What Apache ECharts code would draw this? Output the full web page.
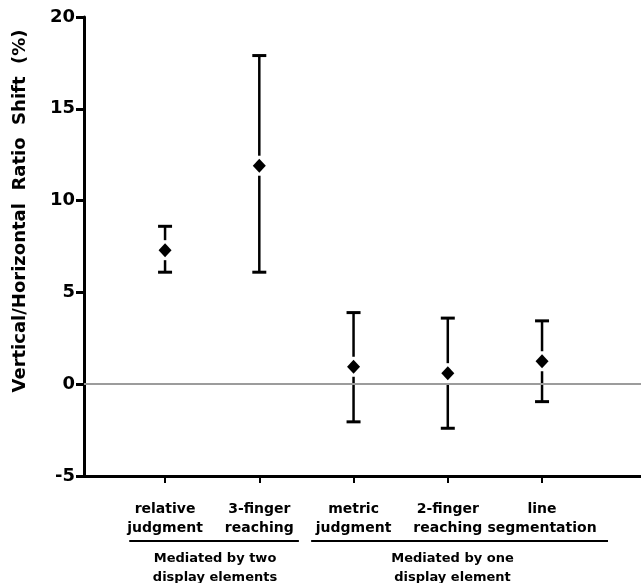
<!DOCTYPE html>
<html>
<head>
<meta charset="utf-8">
<script src="https://cdn.jsdelivr.net/npm/echarts@6/dist/echarts.min.js"></script>
<style>
html,body{margin:0;padding:0;background:#fff;}
#chart{width:641px;height:583px;}
</style>
</head>
<body>
<div id="chart"></div>
<script>
// ---- data ----
const categories = ['relative\njudgment', '3-finger\nreaching', 'metric\njudgment', '2-finger\nreaching', 'line\nsegmentation'];
const categoryPos = [1, 2, 3, 4, 5];
const means = [7.3, 11.9, 0.95, 0.6, 1.25];
const upper = [8.6, 17.9, 3.9, 3.6, 3.45];
const lower = [6.1, 6.1, -2.05, -2.4, -0.95];
const yMin = -5, yMax = 20, yInterval = 5;
const groupLabels = ['Mediated by two\ndisplay elements', 'Mediated by one\ndisplay element'];
const groupStart = [0.62, 2.55];
const groupEnd = [2.42, 5.70];
const groupCenter = [1.53, 4.05];
const yTitle = 'Vertical/Horizontal  Ratio  Shift  (%)';

const FONT = 'DejaVu Sans';
const chart = echarts.init(document.getElementById('chart'), null, {renderer: 'canvas'});

const errData = categoryPos.map((x, i) => [x, lower[i], upper[i], means[i]]);
const meanData = categoryPos.map((x, i) => [x, means[i]]);

const option = {
  animation: false,
  backgroundColor: '#fff',
  grid: {left: 84, right: 0, top: 17, bottom: 107, containLabel: false},
  xAxis: {
    type: 'value', min: 0.14, max: 6.05,
    splitLine: {show: false},
    axisLine: {show: true, onZero: false, lineStyle: {color: '#000', width: 3}},
    axisTick: {show: true, inside: false, length: 7, lineStyle: {color: '#000', width: 2}, customValues: categoryPos},
    axisLabel: {
      show: true, customValues: categoryPos, margin: 24,
      formatter: v => categories[Math.round(v) - 1] || '',
      fontFamily: FONT, fontWeight: 'bold', fontSize: 14, lineHeight: 19, color: '#000'
    }
  },
  yAxis: {
    type: 'value', min: yMin, max: yMax, interval: yInterval,
    splitLine: {show: false},
    axisLine: {show: true, onZero: false, lineStyle: {color: '#000', width: 3}},
    axisTick: {show: true, inside: false, length: 8, lineStyle: {color: '#000', width: 3}},
    axisLabel: {margin: 9, fontFamily: FONT, fontWeight: 'bold', fontSize: 18, color: '#000'}
  },
  series: [
    {
      type: 'custom',
      data: errData,
      z: 3,
      renderItem: function (params, api) {
        const x = api.value(0);
        const lo = api.coord([x, api.value(1)]);
        const hi = api.coord([x, api.value(2)]);
        const m = api.coord([x, api.value(3)]);
        const gap = 10, cap = 7;
        const st = {stroke: '#000', lineWidth: 2.5};
        const cst = {stroke: '#000', lineWidth: 3};
        return {
          type: 'group',
          children: [
            {type: 'line', shape: {x1: hi[0], y1: hi[1], x2: m[0], y2: m[1] - gap}, style: st},
            {type: 'line', shape: {x1: m[0], y1: m[1] + gap, x2: lo[0], y2: lo[1]}, style: st},
            {type: 'line', shape: {x1: hi[0] - cap, y1: hi[1], x2: hi[0] + cap, y2: hi[1]}, style: cst},
            {type: 'line', shape: {x1: lo[0] - cap, y1: lo[1], x2: lo[0] + cap, y2: lo[1]}, style: cst}
          ]
        };
      },
      markLine: {
        silent: true, symbol: 'none', label: {show: false},
        lineStyle: {color: '#9c9c9c', width: 2, type: 'solid'},
        data: [{yAxis: 0}]
      }
    },
    {
      type: 'scatter',
      data: meanData,
      symbol: 'diamond',
      symbolSize: [13, 14],
      itemStyle: {color: '#000', opacity: 1},
      z: 4
    }
  ],
  graphic: []
};
chart.setOption(option);

// group brackets and labels below the category labels, placed through the axis scale
const gfx = [];
const lineY = 541;
for (let g = 0; g < groupLabels.length; g++) {
  const x1 = chart.convertToPixel({xAxisIndex: 0}, groupStart[g]);
  const x2 = chart.convertToPixel({xAxisIndex: 0}, groupEnd[g]);
  const xc = chart.convertToPixel({xAxisIndex: 0}, groupCenter[g]);
  gfx.push({type: 'line', shape: {x1: x1, y1: lineY, x2: x2, y2: lineY}, style: {stroke: '#000', lineWidth: 2}});
  gfx.push({type: 'text', x: xc, y: lineY + 8, style: {
    text: groupLabels[g], fontFamily: FONT, fontWeight: 'bold', fontSize: 13, lineHeight: 19,
    fill: '#000', align: 'center', verticalAlign: 'top'}});
}
gfx.push({type: 'text', x: 20, y: 211, rotation: Math.PI / 2, style: {
  text: yTitle, fontFamily: FONT, fontWeight: 'bold', fontSize: 18, fill: '#000',
  align: 'center', verticalAlign: 'middle'}});
chart.setOption({graphic: gfx});
</script>
</body>
</html>
